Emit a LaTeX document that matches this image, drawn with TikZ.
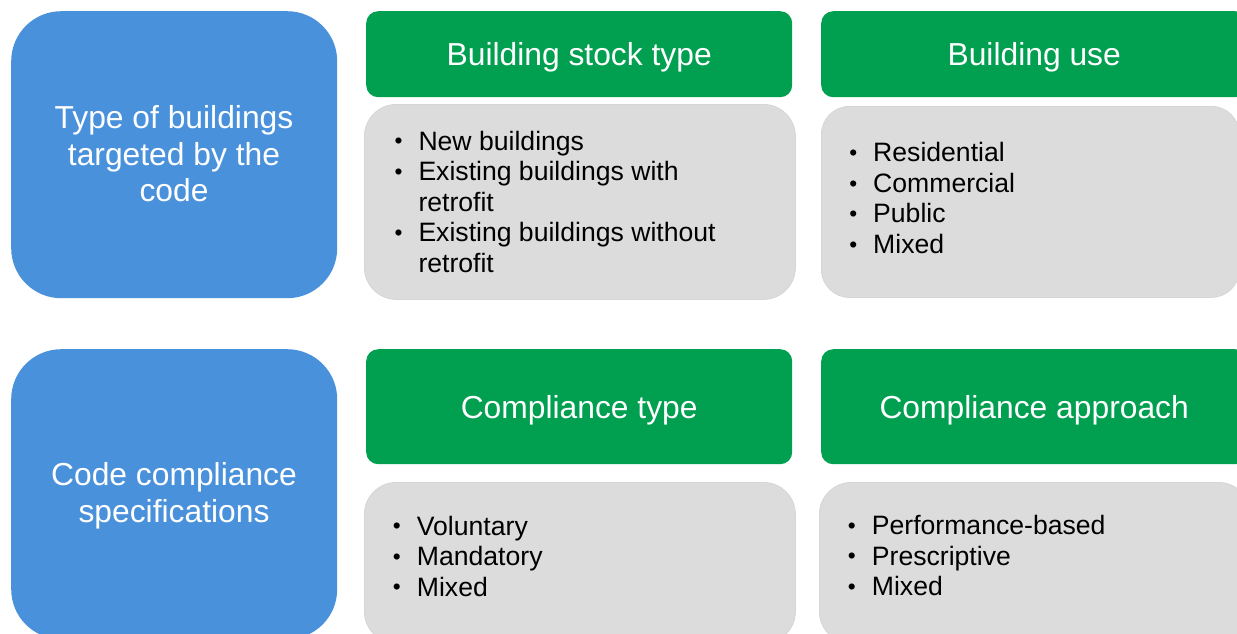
\documentclass[tikz,border=0pt]{standalone}
\usepackage{fontspec}
\setmainfont{Liberation Sans}

\definecolor{topicblue}{RGB}{74,145,220}
\definecolor{headgreen}{RGB}{0,160,80}
\definecolor{panelgray}{RGB}{220,220,220}
\definecolor{panelline}{RGB}{214,214,214}

% bullet hung to the left of the item text
\newcommand\itm{\llap{\raisebox{1.2pt}{\scalebox{0.85}{•}}\hspace{16pt}}}

\tikzset{
  topic/.style={fill=topicblue, rounded corners=50pt, inner sep=0pt,
    anchor=north west},
  topictext/.style={anchor=base, inner sep=0pt, text=white,
    font=\fontsize{31.8}{36.8}\selectfont},
  head/.style={fill=headgreen, rounded corners=12pt, inner sep=0pt,
    text=white, anchor=north west, text height=23.5pt, text depth=0pt,
    font=\fontsize{31.8}{36}\selectfont},
  panel/.style={fill=panelgray, draw=panelline, line width=0.8pt,
    rounded corners=32pt, inner sep=0pt, anchor=north west},
  items/.style={anchor=base west, inner sep=0pt,
    font=\fontsize{26.6}{30.5}\selectfont}
}

\begin{document}
\begin{tikzpicture}[x=1pt, y=-1pt]
  \useasboundingbox (0,0) rectangle (1237,633);
  \fill[white] (0,0) rectangle (1237,633);
  \clip (0,0) rectangle (1237,633);

  % ---- row 1: type of buildings ----
  \node[topic, minimum width=326pt, minimum height=287pt] (topicA) at (11,11) {};
  \node[topictext] (topicAtext) at (174,128.3)
    {\begin{tabular}[t]{@{}c@{}}Type of buildings\\targeted by the\\code\end{tabular}};

  \node[head, minimum width=426pt, minimum height=86pt] (headStock) at (366,11) {Building stock type};
  \node[panel, minimum width=431pt, minimum height=195pt] (panelStock) at (364,104) {};
  \node[items] (listStock) at (418.3,150)
    {\begin{tabular}[t]{@{}l@{}}\itm New buildings\\\itm Existing buildings with\\retrofit\\\itm Existing buildings without\\retrofit\end{tabular}};

  \node[head, minimum width=426pt, minimum height=86pt] (headUse) at (821,11) {Building use};
  \node[panel, minimum width=418pt, minimum height=191pt, rounded corners=28pt] (panelUse) at (821,106) {};
  \node[items] (listUse) at (873,161.7)
    {\begin{tabular}[t]{@{}l@{}}\itm Residential\\\itm Commercial\\\itm Public\\\itm Mixed\end{tabular}};

  % ---- row 2: code compliance specifications ----
  \node[topic, minimum width=326pt, minimum height=290pt] (topicB) at (11,349) {};
  \node[topictext] (topicBtext) at (174,485.7)
    {\begin{tabular}[t]{@{}c@{}}Code compliance\\specifications\end{tabular}};

  \node[head, minimum width=426pt, minimum height=115pt] (headType) at (366,349) {Compliance type};
  \node[panel, minimum width=431pt, minimum height=161pt] (panelType) at (364,482) {};
  \node[items] (listType) at (416.7,535)
    {\begin{tabular}[t]{@{}l@{}}\itm Voluntary\\\itm Mandatory\\\itm Mixed\end{tabular}};

  \node[head, minimum width=426pt, minimum height=115pt] (headApproach) at (821,349) {Compliance approach};
  \node[panel, minimum width=431pt, minimum height=161pt] (panelApproach) at (819,482) {};
  \node[items] (listApproach) at (871.7,534.5)
    {\begin{tabular}[t]{@{}l@{}}\itm Performance-based\\\itm Prescriptive\\\itm Mixed\end{tabular}};
\end{tikzpicture}
\end{document}
